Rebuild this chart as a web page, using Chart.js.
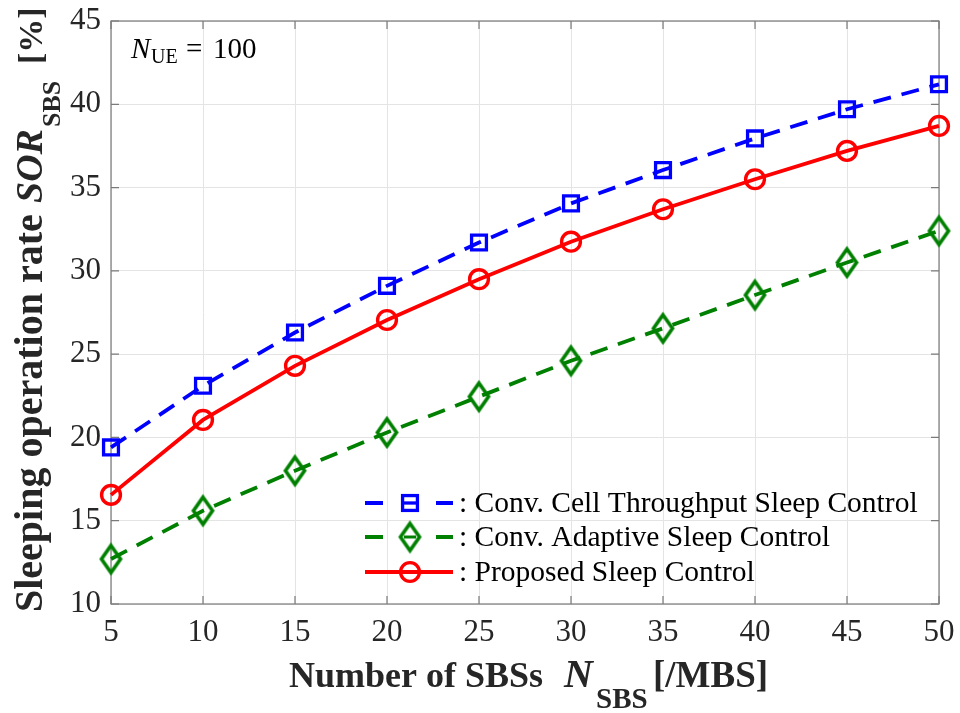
<!DOCTYPE html>
<html>
<head>
<meta charset="utf-8">
<script src="https://cdn.jsdelivr.net/npm/chart.js@4.4.1/dist/chart.umd.min.js"></script>
<style>
  html, body { margin: 0; padding: 0; background: #ffffff; }
  #wrap { width: 960px; height: 713px; }
</style>
</head>
<body>
<div id="wrap"><canvas id="c" width="960" height="713"></canvas></div>
<script>
// Number of small base stations per macro base station
const nSBS = [5, 10, 15, 20, 25, 30, 35, 40, 45, 50];
// Sleeping operation rate [%] for each control scheme
const throughputSleep = [19.4, 23.1, 26.3, 29.1, 31.7, 34.05, 36.05, 37.95, 39.7, 41.2];
const adaptiveSleep   = [12.7, 15.6, 18.0, 20.3, 22.45, 24.6, 26.55, 28.55, 30.5, 32.4];
const proposedSleep   = [16.55, 21.05, 24.3, 27.05, 29.5, 31.75, 33.7, 35.5, 37.2, 38.7];
// Axis ticks
const xTicks = [5, 10, 15, 20, 25, 30, 35, 40, 45, 50];
const yTicks = [10, 15, 20, 25, 30, 35, 40, 45];
// Legend entries
const seriesLabels = [
  ': Conv. Cell Throughput Sleep Control',
  ': Conv. Adaptive Sleep Control',
  ': Proposed Sleep Control'
];

const SERIF = '"Liberation Serif", "Times New Roman", serif';
const TEXT = '#262626';
const BOX = '#7a7a7a';
const GRID = '#e4e4e4';

function diamondMarker(color, w, h, lw) {
  const c = document.createElement('canvas');
  c.width = Math.ceil(w + lw * 2);
  c.height = Math.ceil(h + lw * 2);
  const g = c.getContext('2d');
  const cx = c.width / 2, cy = c.height / 2;
  g.strokeStyle = color;
  g.lineWidth = lw;
  g.lineJoin = 'miter';
  g.beginPath();
  g.moveTo(cx, cy - h / 2);
  g.lineTo(cx + w / 2, cy);
  g.lineTo(cx, cy + h / 2);
  g.lineTo(cx - w / 2, cy);
  g.closePath();
  g.stroke();
  return c;
}

function toPoints(ys) { return nSBS.map((x, i) => ({ x: x, y: ys[i] })); }

// Draws runs of text; each run starts at its own offset along the baseline
function drawRunsAt(ctx, runs, ox, oy, angle) {
  ctx.save();
  ctx.translate(ox, oy);
  ctx.rotate(angle || 0);
  ctx.textBaseline = 'alphabetic';
  ctx.textAlign = 'left';
  runs.forEach(r => {
    ctx.font = r.font;
    ctx.fillStyle = r.color || TEXT;
    ctx.fillText(r.text, r.at, r.dy || 0);
  });
  ctx.restore();
}

// Box around the plot area with inward tick marks on all four sides
const boxPlugin = {
  id: 'boxTicks',
  beforeDatasetsDraw(chart) {
    const { ctx, chartArea: a, scales } = chart;
    ctx.save();
    ctx.strokeStyle = BOX;
    ctx.lineWidth = 1.2;
    ctx.beginPath();
    const L = 8;
    xTicks.forEach(v => {
      const px = scales.x.getPixelForValue(v);
      ctx.moveTo(px, a.bottom); ctx.lineTo(px, a.bottom - L);
      ctx.moveTo(px, a.top); ctx.lineTo(px, a.top + L);
    });
    yTicks.forEach(v => {
      const py = scales.y.getPixelForValue(v);
      ctx.moveTo(a.left, py); ctx.lineTo(a.left + L, py);
      ctx.moveTo(a.right, py); ctx.lineTo(a.right - L, py);
    });
    ctx.stroke();
    ctx.strokeRect(a.left, a.top, a.right - a.left, a.bottom - a.top);
    ctx.restore();
  }
};

// Axis titles and the parameter note
const labelPlugin = {
  id: 'axisLabels',
  afterDraw(chart) {
    const { ctx } = chart;
    drawRunsAt(ctx, [
      { text: 'Number of SBSs', font: 'bold 36px ' + SERIF, at: 0 },
      { text: 'N', font: 'italic bold 40px ' + SERIF, at: 275 },
      { text: 'SBS', font: 'bold 29px ' + SERIF, at: 307, dy: 21 },
      { text: '[/MBS]', font: 'bold 37px ' + SERIF, at: 364 }
    ], 289, 687, 0);

    const YB = 'bold 40px ' + SERIF;
    drawRunsAt(ctx, [
      { text: 'Sleeping operation rate', font: YB, at: 0 },
      { text: 'SOR', font: 'italic bold 38px ' + SERIF, at: 409 },
      { text: 'SBS', font: 'bold 26px ' + SERIF, at: 485, dy: 18 },
      { text: '[%]', font: 'bold 34px ' + SERIF, at: 548 }
    ], 42, 612, -Math.PI / 2);

    drawRunsAt(ctx, [
      { text: 'N', font: 'italic 29px ' + SERIF, color: '#000', at: 0 },
      { text: 'UE', font: '20px ' + SERIF, color: '#000', at: 20, dy: 5 },
      { text: '=', font: '29px ' + SERIF, color: '#000', at: 55 },
      { text: '100', font: '29px ' + SERIF, color: '#000', at: 82 }
    ], 131, 58, 0);
  }
};

// Legend drawn inside the plot area without a frame
const legendPlugin = {
  id: 'innerLegend',
  afterDatasetsDraw(chart) {
    const { ctx } = chart;
    const rows = [503, 537, 572];
    const x0 = 365, x1 = 453, xm = 410;
    chart.data.datasets.forEach((ds, i) => {
      const y = rows[i];
      ctx.save();
      ctx.strokeStyle = ds.borderColor;
      ctx.lineWidth = ds.borderWidth;
      ctx.beginPath();
      if (ds.borderDash && ds.borderDash.length) {
        ctx.moveTo(x0, y); ctx.lineTo(x0 + 18, y);
        ctx.moveTo(x1 - 17, y); ctx.lineTo(x1, y);
      } else {
        ctx.moveTo(x0, y); ctx.lineTo(x1, y);
      }
      ctx.stroke();
      if (ds.pointStyle === 'rect') {
        const s = Math.SQRT1_2 * ds.pointRadius;
        ctx.lineWidth = ds.pointBorderWidth;
        ctx.strokeStyle = ds.pointBorderColor;
        ctx.strokeRect(xm - s, y - s, 2 * s, 2 * s);
        ctx.beginPath();
        ctx.moveTo(xm - s, y); ctx.lineTo(xm + s, y);
        ctx.stroke();
      } else if (ds.pointStyle === 'circle') {
        ctx.lineWidth = ds.pointBorderWidth;
        ctx.strokeStyle = ds.pointBorderColor;
        ctx.beginPath();
        ctx.arc(xm, y, ds.pointRadius, 0, Math.PI * 2);
        ctx.stroke();
      } else {
        const img = ds.pointStyle;
        ctx.drawImage(img, xm - img.width / 2, y - img.height / 2);
        ctx.lineWidth = 3;
        ctx.beginPath();
        ctx.moveTo(xm - 6, y); ctx.lineTo(xm + 6, y);
        ctx.stroke();
      }
      ctx.font = '29.5px ' + SERIF;
      ctx.fillStyle = '#000';
      ctx.textBaseline = 'middle';
      ctx.textAlign = 'left';
      ctx.fillText(ds.label, 459, y + 1);
      ctx.restore();
    });
  }
};

function build() {
  const greenDiamond = diamondMarker('#008000', 19, 27, 3.6);
  const datasets = [
    {
      label: seriesLabels[0],
      data: toPoints(throughputSleep),
      borderColor: '#0000ff',
      borderWidth: 3.8,
      borderDash: [18, 11],
      pointStyle: 'rect',
      pointRadius: 10.5,
      pointBorderWidth: 3.3,
      pointBorderColor: '#0000ff',
      pointBackgroundColor: 'rgba(0,0,0,0)',
      clip: false
    },
    {
      label: seriesLabels[1],
      data: toPoints(adaptiveSleep),
      borderColor: '#008000',
      borderWidth: 3.8,
      borderDash: [18, 11],
      pointStyle: greenDiamond,
      pointRadius: 12,
      pointBorderColor: '#008000',
      pointBackgroundColor: 'rgba(0,0,0,0)',
      clip: false
    },
    {
      label: seriesLabels[2],
      data: toPoints(proposedSleep),
      borderColor: '#ff0000',
      borderWidth: 3.8,
      pointStyle: 'circle',
      pointRadius: 9.4,
      pointBorderWidth: 3.4,
      pointBorderColor: '#ff0000',
      pointBackgroundColor: 'rgba(0,0,0,0)',
      clip: false
    }
  ];

  new Chart(document.getElementById('c'), {
    type: 'line',
    data: { datasets: datasets },
    plugins: [boxPlugin, legendPlugin, labelPlugin],
    options: {
      responsive: false,
      animation: false,
      devicePixelRatio: 1,
      layout: { padding: { left: 0, top: 21, right: 21, bottom: 0 } },
      plugins: { legend: { display: false }, tooltip: { enabled: false } },
      scales: {
        x: {
          type: 'linear',
          min: 5, max: 50,
          afterBuildTicks(scale) { scale.ticks = xTicks.map(v => ({ value: v })); },
          afterFit(scale) { scale.height = 109; scale.paddingLeft = 0; scale.paddingRight = 0; },
          ticks: { font: { family: SERIF, size: 31 }, color: TEXT, padding: 10 },
          grid: { color: GRID, lineWidth: 1, drawTicks: false },
          border: { display: false }
        },
        y: {
          type: 'linear',
          min: 10, max: 45,
          afterBuildTicks(scale) { scale.ticks = yTicks.map(v => ({ value: v })); },
          afterFit(scale) { scale.width = 111; scale.paddingTop = 0; scale.paddingBottom = 0; },
          ticks: { font: { family: SERIF, size: 31 }, color: TEXT, padding: 10 },
          grid: { color: GRID, lineWidth: 1, drawTicks: false },
          border: { display: false }
        }
      }
    }
  });
}

const fontFaces = [
  '31px "Liberation Serif"', '29px "Liberation Serif"',
  'bold 36px "Liberation Serif"', 'italic bold 36px "Liberation Serif"',
  'italic 29px "Liberation Serif"'
];
if (document.fonts && document.fonts.load) {
  Promise.all(fontFaces.map(f => document.fonts.load(f))).then(build, build);
} else {
  build();
}
</script>
</body>
</html>
